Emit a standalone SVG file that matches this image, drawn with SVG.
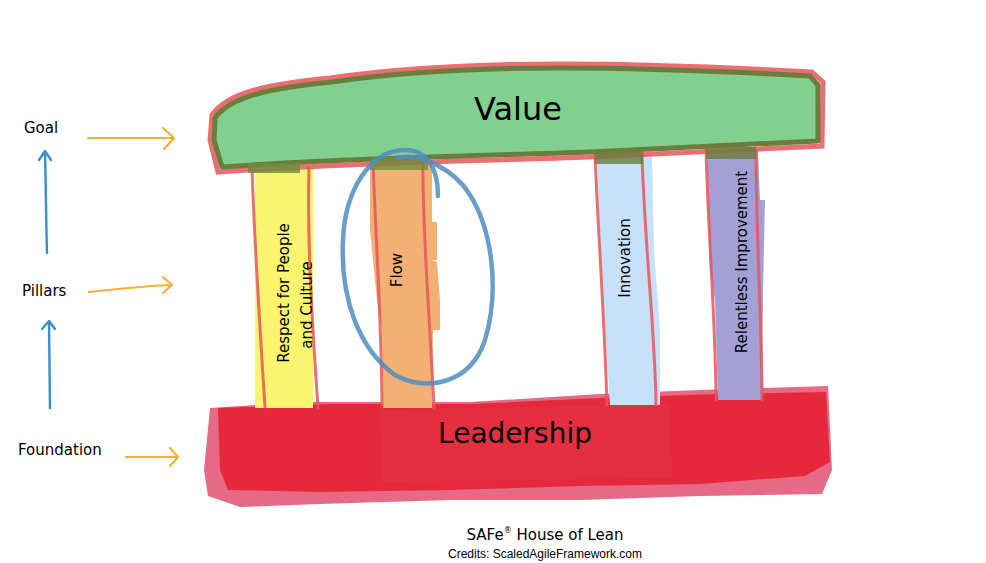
<svg xmlns="http://www.w3.org/2000/svg" width="986" height="563" viewBox="0 0 986 563">
<defs>
<style>
.lbl{font-family:"DejaVu Sans","Liberation Sans",sans-serif;fill:#000}
.ol{fill:none;stroke:#e8555b;stroke-width:3;stroke-opacity:0.85;stroke-linecap:round}
.oa{fill:none;stroke:#f6b030;stroke-width:2.2;stroke-linecap:round;stroke-linejoin:round}
.ba{fill:none;stroke:#3a8fd0;stroke-width:2.4;stroke-linecap:round;stroke-linejoin:round}
</style>
</defs>
<rect width="986" height="563" fill="#fff"/>

<g id="foundation">
<path d="M210,408 L300,402 L470,402 L600,394 L700,390 L828,386 L832,470 L822,494 L700,496 L580,500 L450,500 L320,504 L240,507 L208,496 L204,470 Z" fill="#e66a85"/>
<path d="M218,408 L330,404 L470,404 L600,398 L720,394 L826,392 L830,462 L805,476 L700,484 L580,486 L450,490 L320,492 L228,490 L220,470 Z" fill="#e5283a"/>
<path d="M380,410 L670,404 L672,478 L382,482 Z" fill="#e53b50" opacity="0.35"/>
<text class="lbl" x="515" y="443" font-size="28" text-anchor="middle">Leadership</text>
</g>

<g id="pillar-respect">
<rect x="255" y="168" width="58" height="240" fill="#fbf46f"/>
<path class="ol" d="M252,168 C254,230 258,300 265,407"/>
<path class="ol" d="M309,168 C307,240 312,320 318,408"/>
<text class="lbl" font-size="15" text-anchor="middle" transform="translate(289,293) rotate(-90)">Respect for People</text>
<text class="lbl" font-size="15" text-anchor="middle" transform="translate(312,305) rotate(-90)">and Culture</text>
</g>

<g id="pillar-flow">
<path d="M370,160 L432,160 L432,222 L437,222 L437,260 L432,260 L437,262 L440,300 L440,330 L433,330 L432,408 L383,408 L382,330 L377,300 L370,230 Z" fill="#f2b173"/>
<path class="ol" d="M373,160 C375,230 381,300 382,405"/>
<path class="ol" d="M423,160 C422,230 430,320 434,408"/>
<text class="lbl" font-size="15" text-anchor="middle" transform="translate(402,270) rotate(-90)">Flow</text>
</g>

<g id="pillar-innovation">
<path d="M597,155 L652,155 L654,250 L660,330 L660,405 L610,405 L605,330 L600,250 Z" fill="#c7e2f8"/>
<path class="ol" d="M595,155 C598,230 605,330 607,405"/>
<path class="ol" d="M642,155 C645,250 655,330 656,405"/>
<text class="lbl" font-size="15" text-anchor="middle" transform="translate(630,258) rotate(-90)">Innovation</text>
</g>

<g id="pillar-relentless">
<path d="M707,150 L758,150 L760,200 L765,200 L763,290 L762,400 L718,400 L715,300 L710,270 L708,200 Z" fill="#a49fd5"/>
<path class="ol" d="M706,150 C708,230 716,330 716,400"/>
<path class="ol" d="M756,150 C756,230 762,330 762,400"/>
<text class="lbl" font-size="15" text-anchor="middle" transform="translate(747,262) rotate(-90)">Relentless Improvement</text>
</g>

<g id="goal-roof">
<path d="M212,115 C228,92 268,84 330,78 C400,68 470,64 560,64 C650,64 740,68 812,72 L823,82 L822,146 C760,149 680,153 590,157 C480,161 340,163 218,172 L210,140 Z" fill="none" stroke="#e8555b" stroke-width="5" stroke-opacity="0.85"/>
<path d="M215,118 C231,96 271,88 332,82 C400,72 470,68 560,68 C650,68 738,72 810,76 L818,85 L818,141 C760,144 680,148 590,152 C480,156 340,158 222,167 L214,140 Z" fill="#82d090" stroke="#6a7d3c" stroke-width="5" stroke-linejoin="round"/>
<rect x="248" y="163" width="52" height="10" fill="#6a8d3c" opacity="0.8"/>
<rect x="370" y="157" width="58" height="13" fill="#6a8d3c" opacity="0.75"/>
<rect x="595" y="152" width="48" height="12" fill="#6a7d3c" opacity="0.8"/>
<rect x="706" y="147" width="50" height="12" fill="#6a7d3c" opacity="0.8"/>
<text class="lbl" x="518" y="120" font-size="32" text-anchor="middle">Value</text>
</g>

<g id="connectors">
<path d="M438,196 C438,165 425,150 405,150 C370,150 345,190 343,240 C340,300 360,350 395,375 C425,392 470,385 485,340 C500,290 492,230 470,195 C455,170 420,152 398,158" fill="none" stroke="#4f8dc2" stroke-width="4.5" stroke-opacity="0.85" stroke-linecap="round"/>
<path class="oa" d="M88,138 L174,138 M163,128 L174,138 L164,149"/>
<path class="oa" d="M89,292 C110,290 140,286 172,285 M163,277 L172,285 L163,293"/>
<path class="oa" d="M126,457 L178,457 M170,448 L178,457 L170,466"/>
<path class="ba" d="M47,253 C46,220 46,185 45,153 M39,160 L45,151 L51,160"/>
<path class="ba" d="M50,408 L49,322 M42,329 L49,321 L55,329"/>
</g>

<g id="left-labels">
<text class="lbl" x="24" y="133" font-size="15">Goal</text>
<text class="lbl" x="22" y="296" font-size="15">Pillars</text>
<text class="lbl" x="18" y="455" font-size="15">Foundation</text>
</g>

<g id="caption">
<text class="lbl" x="545" y="540" font-size="15" text-anchor="middle">SAFe<tspan font-size="8" dy="-7">®</tspan><tspan dy="7"> House of Lean</tspan></text>
<text x="545" y="558" font-size="12" text-anchor="middle" font-family="Liberation Sans, sans-serif">Credits: ScaledAgileFramework.com</text>
</g>
</svg>
